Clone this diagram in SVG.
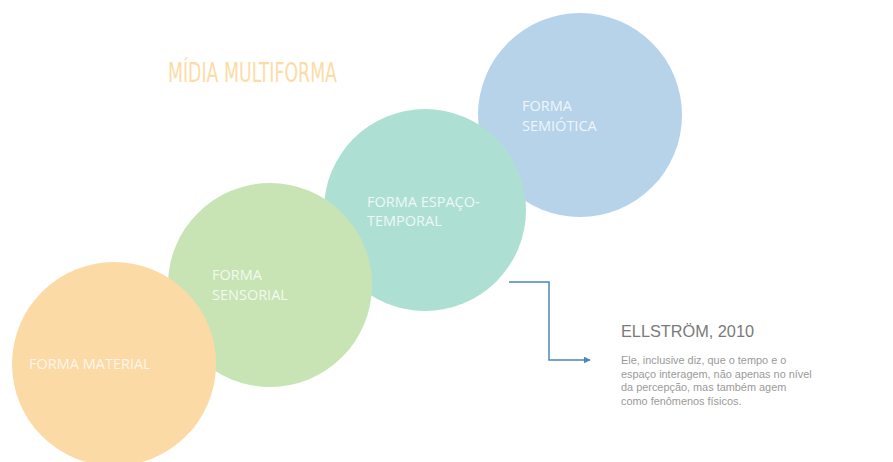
<svg xmlns="http://www.w3.org/2000/svg" width="893" height="462" viewBox="0 0 893 462">
<style>
.lbl{font-family:"Open Sans","Liberation Sans",sans-serif;font-size:14.5px;fill:#ffffff;fill-opacity:0.8}
.title{font-family:"DejaVu Sans Condensed","Liberation Sans Narrow","Liberation Sans",sans-serif;font-size:27px;fill:#fcdca6}
.head{font-family:"Liberation Sans",sans-serif;font-size:16.3px;fill:#7a7a7a}
.body{font-family:"Liberation Sans",sans-serif;font-size:10.9px;fill:#9a9a9a}
.conn{fill:none;stroke:#4a86c0;stroke-width:1.5}
</style>
<defs>
<marker id="ah" viewBox="0 0 10 10" refX="9" refY="5" markerWidth="7" markerHeight="7" markerUnits="userSpaceOnUse" orient="auto">
<path d="M0,0 L10,5 L0,10 z" fill="#4a86c0"/>
</marker>
</defs>
<rect width="893" height="462" fill="#ffffff"/>
<text class="title" x="168" y="82" textLength="169" lengthAdjust="spacingAndGlyphs">MÍDIA MULTIFORMA</text>
<g id="semiotica">
<circle cx="580" cy="115" r="102" fill="#b6d3ea"/>
<text class="lbl" x="522" y="111">FORMA</text>
<text class="lbl" x="522" y="131">SEMIÓTICA</text>
</g>
<g id="espaco-temporal">
<circle cx="425" cy="210" r="101" fill="#aedfd3"/>
<text class="lbl" x="367" y="207">FORMA ESPAÇO-</text>
<text class="lbl" x="367" y="226">TEMPORAL</text>
</g>
<g id="sensorial">
<circle cx="270" cy="285" r="102" fill="#c8e4b5"/>
<text class="lbl" x="212" y="280">FORMA</text>
<text class="lbl" x="212" y="300">SENSORIAL</text>
</g>
<g id="material">
<circle cx="114" cy="364" r="102" fill="#fcdaa6"/>
<text class="lbl" x="29" y="369">FORMA MATERIAL</text>
</g>
<g id="connectors">
<path class="conn" d="M509,282 H549 V360 H590" marker-end="url(#ah)"/>
</g>
<g id="ellstrom">
<text class="head" x="621" y="337">ELLSTRÖM, 2010</text>
<text class="body" x="621" y="364">Ele, inclusive diz, que o tempo e o</text>
<text class="body" x="621" y="378">espaço interagem, não apenas no nível</text>
<text class="body" x="621" y="391">da percepção, mas também agem</text>
<text class="body" x="621" y="405">como fenômenos físicos.</text>
</g>
</svg>
